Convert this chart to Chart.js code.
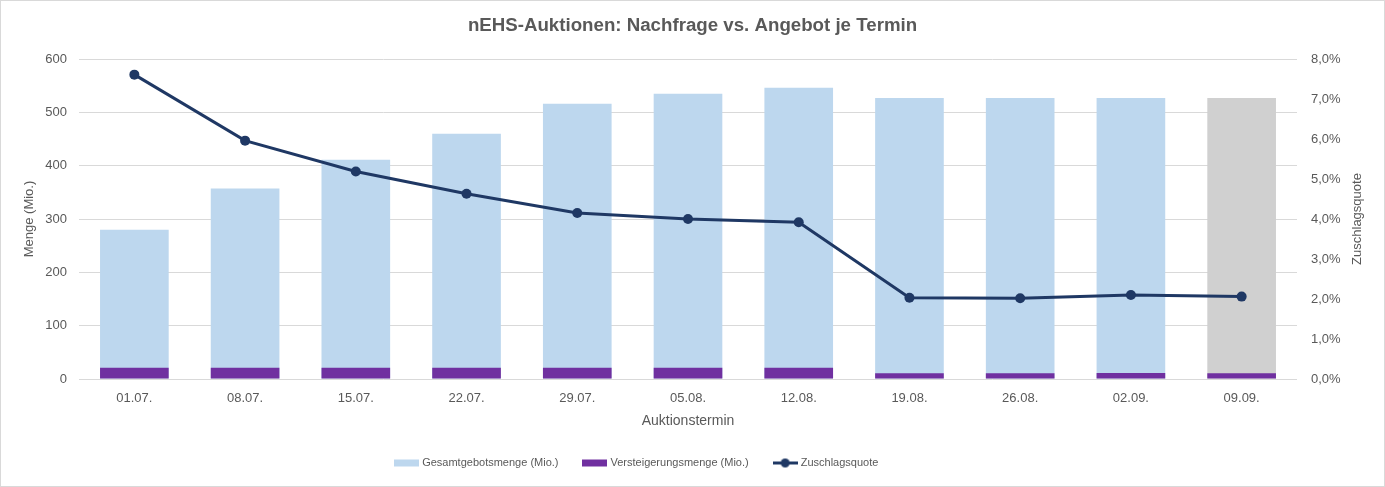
<!DOCTYPE html>
<html>
<head>
<meta charset="utf-8">
<script src="https://cdn.jsdelivr.net/npm/chart.js@4.4.1/dist/chart.umd.min.js"></script>
<style>
  html, body { margin: 0; padding: 0; background: #ffffff; }
  #wrap { width: 1385px; height: 487px; box-sizing: border-box; border: 1px solid #D9D9D9; background: #fff; }
  canvas { display: block; }
</style>
</head>
<body>
<div id="wrap"><canvas id="c" width="1383" height="485"></canvas></div>
<script>
// ---- data ----
const categories = ['01.07.', '08.07.', '15.07.', '22.07.', '29.07.', '05.08.', '12.08.', '19.08.', '26.08.', '02.09.', '09.09.'];
const gesamtgebotsmenge = [280, 357, 411, 460, 516, 535, 546, 527, 527, 527, 527];
const versteigerungsmenge = [21.3, 21.3, 21.3, 21.3, 21.3, 21.3, 21.3, 10.7, 10.7, 11.1, 10.8];
const zuschlagsquote = [7.61, 5.96, 5.19, 4.63, 4.15, 4.00, 3.92, 2.03, 2.02, 2.10, 2.06];
const leftTicks = [0, 100, 200, 300, 400, 500, 600];
const rightTicks = [0, 1, 2, 3, 4, 5, 6, 7, 8];
const seriesNames = ['Gesamtgebotsmenge (Mio.)', 'Versteigerungsmenge (Mio.)', 'Zuschlagsquote'];
const titleText = 'nEHS-Auktionen: Nachfrage vs. Angebot je Termin';
const leftTitle = 'Menge (Mio.)';
const rightTitle = 'Zuschlagsquote';
const xTitle = 'Auktionstermin';

// ---- styles ----
const BLUE = '#BDD7EE', GREY = '#D0D0D0', PURPLE = '#7030A0', NAVY = '#1F3864';
const TXT = '#595959', GRID = '#D9D9D9';
const FONT = "'Liberation Sans', Arial, sans-serif";

const blueColors = gesamtgebotsmenge.map((v, i) => i === categories.length - 1 ? GREY : BLUE);

function makeIcon(kind) {
  const c = document.createElement('canvas');
  c.width = 25; c.height = 11;
  const g = c.getContext('2d');
  if (kind === 'line') {
    g.strokeStyle = NAVY; g.lineWidth = 3;
    g.beginPath(); g.moveTo(0, 5.5); g.lineTo(25, 5.5); g.stroke();
    g.fillStyle = NAVY; g.beginPath(); g.arc(12.5, 5.5, 4.5, 0, Math.PI * 2); g.fill();
  } else {
    g.fillStyle = kind; g.fillRect(0, 2, 25, 7);
  }
  return c;
}
const icons = [makeIcon(BLUE), makeIcon(PURPLE), makeIcon('line')];

const rightTitlePlugin = {
  id: 'rightTitle',
  afterLayout(chart) {
    if (chart.legend) { chart.legend.left -= 55; chart.legend.right -= 55; }
  },
  afterDraw(chart) {
    const ctx = chart.ctx, a = chart.chartArea;
    ctx.save();
    ctx.translate(1356, (a.top + a.bottom) / 2);
    ctx.rotate(-Math.PI / 2);
    ctx.font = '13px ' + FONT;
    ctx.fillStyle = TXT;
    ctx.textAlign = 'center';
    ctx.textBaseline = 'middle';
    ctx.fillText(rightTitle, 0, 0);
    ctx.restore();
  }
};

new Chart(document.getElementById('c'), {
  data: {
    labels: categories,
    datasets: [
      { type: 'bar', label: seriesNames[0], data: gesamtgebotsmenge, backgroundColor: blueColors,
        yAxisID: 'y', grouped: false, barPercentage: 0.62, categoryPercentage: 1.0, order: 2 },
      { type: 'bar', label: seriesNames[1], data: versteigerungsmenge, backgroundColor: PURPLE,
        yAxisID: 'y', grouped: false, barPercentage: 0.62, categoryPercentage: 1.0, order: 1 },
      { type: 'line', label: seriesNames[2], data: zuschlagsquote, yAxisID: 'y1',
        borderColor: NAVY, backgroundColor: NAVY, borderWidth: 3, tension: 0,
        pointRadius: 5, pointBackgroundColor: NAVY, pointBorderColor: NAVY, pointBorderWidth: 0, order: 0 }
    ]
  },
  options: {
    responsive: false,
    animation: false,
    layout: { padding: { left: 0, right: 0, top: 0, bottom: 7.5 } },
    plugins: {
      tooltip: { enabled: false },
      title: {
        display: true, text: titleText, color: TXT,
        font: { family: FONT, size: 18.7, weight: 'bold', lineHeight: 1.2 },
        padding: { top: 14, bottom: 21.6 }
      },
      legend: {
        position: 'bottom',
        labels: {
          usePointStyle: true, pointStyleWidth: 20, boxHeight: 11,
          padding: 26.5, color: TXT,
          font: { family: FONT, size: 11 },
          sort: (a, b) => a.datasetIndex - b.datasetIndex,
          generateLabels: (chart) => {
            const items = Chart.defaults.plugins.legend.labels.generateLabels(chart);
            items.forEach(it => { it.pointStyle = icons[it.datasetIndex]; });
            return items;
          }
        }
      }
    },
    scales: {
      x: {
        grid: { display: false }, border: { display: false },
        ticks: { color: TXT, font: { family: FONT, size: 13 }, padding: 3.5, maxRotation: 0 },
        title: { display: true, text: xTitle, color: TXT, font: { family: FONT, size: 14, lineHeight: 1.2 }, padding: { top: 0, bottom: 1.6 } },
        afterFit: s => { s.height = 52; }
      },
      y: {
        position: 'left', min: 0, max: 600,
        afterBuildTicks: s => { s.ticks = leftTicks.map(v => ({ value: v })); },
        grid: { color: GRID, lineWidth: 1, drawTicks: false }, border: { display: false },
        ticks: { color: TXT, font: { family: FONT, size: 13 }, padding: 12 },
        title: { display: true, text: leftTitle, color: TXT, font: { family: FONT, size: 13, lineHeight: 1.2 }, padding: { top: 21, bottom: 0 } },
        afterFit: s => { s.width = 78; }
      },
      y1: {
        position: 'right', min: 0, max: 8,
        afterBuildTicks: s => { s.ticks = rightTicks.map(v => ({ value: v })); },
        grid: { display: false, drawTicks: false }, border: { display: false },
        ticks: { color: TXT, font: { family: FONT, size: 13 }, padding: 14,
          callback: v => v.toFixed(1).replace('.', ',') + '%' },
        afterFit: s => { s.width = 87; }
      }
    }
  },
  plugins: [rightTitlePlugin]
});
</script>
</body>
</html>
